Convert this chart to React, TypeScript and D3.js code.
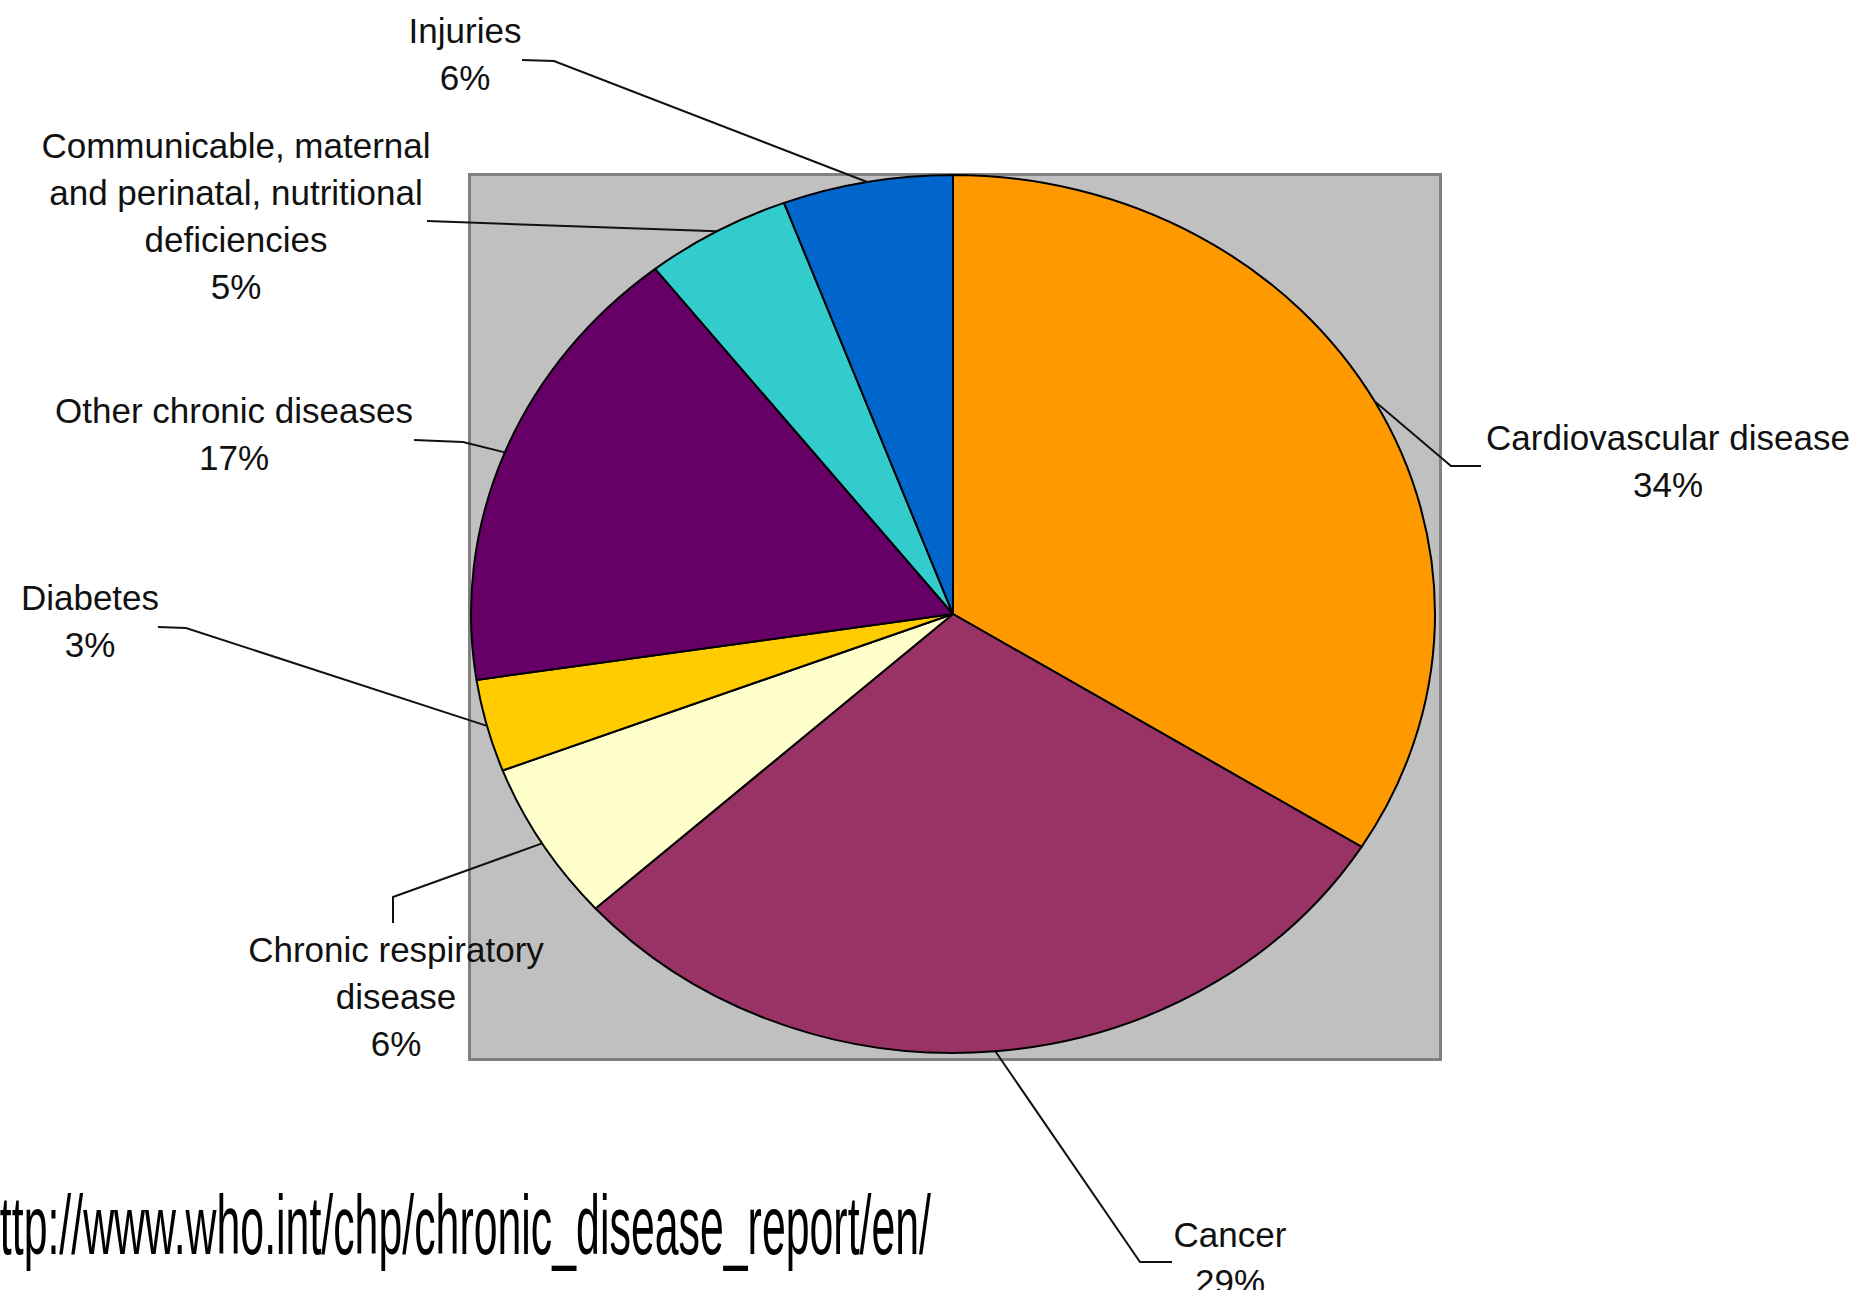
import React from "react";
import * as d3 from "d3";

// ---- data ----
const categories = [
  "Cardiovascular disease",
  "Cancer",
  "Chronic respiratory disease",
  "Diabetes",
  "Other chronic diseases",
  "Communicable, maternal and perinatal, nutritional deficiencies",
  "Injuries",
];
const shares = [33.9, 29.4, 5.9, 3.4, 16.8, 4.9, 5.7];
const percentLabels = ["34%", "29%", "6%", "3%", "17%", "5%", "6%"];
const sliceColors = ["#FF9900", "#993366", "#FFFFCC", "#FFCC00", "#660066", "#33CCCC", "#0066CC"];
const sourceText = "http://www.who.int/chp/chronic_disease_report/en/";

// ---- layout ----
const W = 1859;
const H = 1290;
const plotBox = { x0: 469.5, y0: 174.5, x1: 1440.5, y1: 1059.5 };
const pieCx = 953;
const pieCy = 614;
const pieRx = 482;
const pieRy = 439;
const fontSize = 35;
const lineGap = 47;
const labelLayout = [
  { lines: ["Cardiovascular disease"], x: 1668, y: 450, elbow: [1451, 466], end: [1481, 466] },
  { lines: ["Cancer"], x: 1230, y: 1247, elbow: [1140, 1262], end: [1172, 1262] },
  { lines: ["Chronic respiratory", "disease"], x: 396, y: 962, elbow: [393, 897], end: [393, 923] },
  { lines: ["Diabetes"], x: 90, y: 610, elbow: [186, 628], end: [158, 627] },
  { lines: ["Other chronic diseases"], x: 234, y: 423, elbow: [463, 442], end: [414, 440] },
  {
    lines: ["Communicable, maternal", "and perinatal, nutritional", "deficiencies"],
    x: 236,
    y: 158,
    elbow: [455, 222],
    end: [427, 221],
  },
  { lines: ["Injuries"], x: 465, y: 43, elbow: [554, 61], end: [522, 60] },
];

export default function App() {
  const pie = d3
    .pie<number>()
    .sort(null)
    .value((d) => d)
    .startAngle(0)
    .endAngle(2 * Math.PI);
  const arcs = pie(shares);
  const arcGen = d3.arc<d3.PieArcDatum<number>>().innerRadius(0).outerRadius(pieRx);
  const line = d3.line<number[]>().x((p) => p[0]).y((p) => p[1]);
  const font = "'Liberation Sans', Arial, sans-serif";

  return (
    <svg
      width={W}
      height={H}
      style={{ position: "absolute", left: 0, top: 0, display: "block", background: "#fff" }}
    >
      <rect x={0} y={0} width={W} height={H} fill="#fff" />
      <rect
        x={plotBox.x0}
        y={plotBox.y0}
        width={plotBox.x1 - plotBox.x0}
        height={plotBox.y1 - plotBox.y0}
        fill="#C0C0C0"
        stroke="#808080"
        strokeWidth={3}
      />
      <g transform={`translate(${pieCx},${pieCy}) scale(1,${pieRy / pieRx})`}>
        {arcs.map((a, i) => (
          <path
            key={categories[i]}
            d={arcGen(a) || ""}
            fill={sliceColors[i]}
            stroke="#000"
            strokeWidth={2}
            vectorEffect="non-scaling-stroke"
            strokeLinejoin="round"
          />
        ))}
      </g>
      {arcs.map((a, i) => {
        const mid = (a.startAngle + a.endAngle) / 2;
        const start = [pieCx + pieRx * Math.sin(mid), pieCy - pieRy * Math.cos(mid)];
        const L = labelLayout[i];
        return (
          <path
            key={"leader" + i}
            d={line([start, L.elbow, L.end]) || ""}
            fill="none"
            stroke="#111"
            strokeWidth={2}
          />
        );
      })}
      {labelLayout.map((L, i) => {
        const all = [...L.lines, percentLabels[i]];
        return (
          <text
            key={"lab" + i}
            fontFamily={font}
            fontSize={fontSize}
            fill="#111"
            textAnchor="middle"
          >
            {all.map((t, j) => (
              <tspan key={j} x={L.x} y={L.y + j * lineGap}>
                {t}
              </tspan>
            ))}
          </text>
        );
      })}
      <text
        x={-24}
        y={1254}
        fontFamily={font}
        fontSize={84}
        fill="#000"
        textLength={955}
        lengthAdjust="spacingAndGlyphs"
      >
        {sourceText}
      </text>
    </svg>
  );
}
